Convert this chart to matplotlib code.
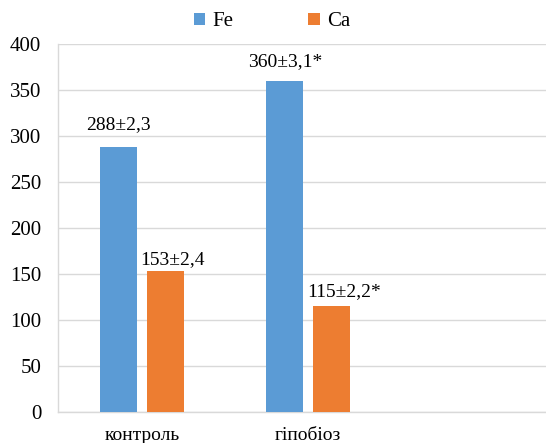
import matplotlib
matplotlib.use("Agg")
import matplotlib.pyplot as plt
import numpy as np

categories = ["контроль", "гіпобіоз"]
series_names = ["Fe", "Ca"]
fe_values = [288, 360]
ca_values = [153, 115]
fe_labels = ["288±2,3", "360±3,1*"]
ca_labels = ["153±2,4", "115±2,2*"]
y_ticks = [0, 50, 100, 150, 200, 250, 300, 350, 400]

colors = ["#5B9BD5", "#ED7D31"]
plt.rcParams['font.family'] = ['Liberation Serif', 'DejaVu Serif']

fig = plt.figure(figsize=(5.46, 4.43), dpi=100)
ax = fig.add_axes([58/546, 31/443, (546-58)/546, 368/443])

x = np.arange(len(categories))
w = 0.222
off = 0.141
b1 = ax.bar(x - off, fe_values, w, color=colors[0], label=series_names[0], zorder=3)
b2 = ax.bar(x + off, ca_values, w, color=colors[1], label=series_names[1], zorder=3)

# label offsets (pixels) relative to bar top center
fe_offsets = [(0, 22), (0, 19)]
ca_offsets = [(7, 12), (12, 14.5)]
fs = 14
for rect, lab, (dx, dy) in zip(b1, fe_labels, fe_offsets):
    ax.annotate(lab, (rect.get_x() + rect.get_width()/2, rect.get_height()),
                xytext=(dx*0.72, dy*0.72), textcoords='offset points',
                ha='center', va='center', fontsize=fs, color='#000000')
for rect, lab, (dx, dy) in zip(b2, ca_labels, ca_offsets):
    ax.annotate(lab, (rect.get_x() + rect.get_width()/2, rect.get_height()),
                xytext=(dx*0.72, dy*0.72), textcoords='offset points',
                ha='center', va='center', fontsize=fs, color='#000000')

ax.set_ylim(0, 400)
ax.set_yticks(y_ticks)
ax.set_xlim(-0.504, 2.43)
ax.set_xticks(x)
ax.set_xticklabels(categories)
ax.tick_params(axis='both', length=0)
ax.tick_params(axis='y', pad=12, labelsize=15)
ax.tick_params(axis='x', pad=11, labelsize=14)
ax.yaxis.grid(True, color='#D9D9D9', linewidth=1.0, zorder=0)
ax.set_axisbelow(True)
for s in ['top', 'right']:
    ax.spines[s].set_visible(False)
for s in ['left', 'bottom']:
    ax.spines[s].set_color('#D9D9D9')
    ax.spines[s].set_linewidth(1.0)

fig.legend(handles=[b1, b2], labels=series_names, loc='center',
           bbox_to_anchor=(272/546, 1 - 22/443), ncol=2, frameon=False,
           fontsize=15, handlelength=0.55, handleheight=0.55,
           handletextpad=0.35, columnspacing=3.6)

fig.savefig("out.png", dpi=100)
